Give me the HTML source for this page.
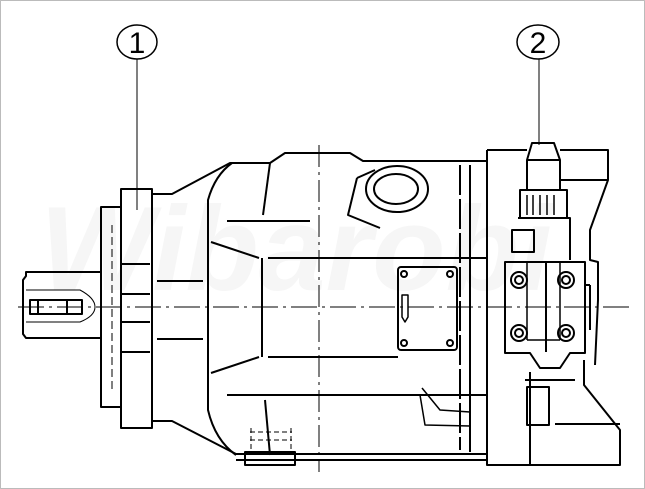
<!DOCTYPE html>
<html><head><meta charset="utf-8"><style>
html,body{margin:0;padding:0;background:#fff;width:645px;height:489px;overflow:hidden}
svg{display:block}
</style></head><body>
<svg width="645" height="489" viewBox="0 0 645 489" xmlns="http://www.w3.org/2000/svg" fill="none" stroke="#000" stroke-width="2" stroke-linejoin="round">
<rect x="0.5" y="0.5" width="644" height="488" stroke="#bbb" stroke-width="1"/>
<text x="40" y="290" font-family="Liberation Sans, sans-serif" font-size="120" font-style="italic" font-weight="bold" fill="#f6f6f6" stroke="none">Wibarobi</text>
<!-- balloons -->
<ellipse cx="137" cy="42" rx="20" ry="17" stroke-width="1.5"/>
<text x="137" y="53" font-family="Liberation Sans, sans-serif" font-size="30" text-anchor="middle" fill="#000" stroke="none">1</text>
<line x1="137" y1="59" x2="137" y2="210" stroke-width="1"/>
<ellipse cx="538" cy="42" rx="21" ry="17" stroke-width="1.5"/>
<text x="538" y="53" font-family="Liberation Sans, sans-serif" font-size="30" text-anchor="middle" fill="#000" stroke="none">2</text>
<line x1="539" y1="59" x2="539" y2="145" stroke-width="1"/>
<!-- center lines -->
<line x1="18" y1="307" x2="630" y2="307" stroke-width="1" stroke-dasharray="26,5,3,5"/>
<line x1="319" y1="145" x2="319" y2="472" stroke-width="1" stroke-dasharray="22,5,3,5"/>
<!-- shaft -->
<path d="M102 272 H26 V276 L23 280 V334 L26 338 H102"/>
<path d="M26 290 H80 Q95 298 95 307 Q95 316 80 322 H26" stroke-width="1"/>
<rect x="30" y="300" width="52" height="14"/>
<line x1="38" y1="300" x2="38" y2="314"/><line x1="67" y1="300" x2="67" y2="314"/>
<!-- flanges -->
<rect x="101" y="207" width="20" height="200"/>
<line x1="112" y1="225" x2="112" y2="390" stroke-width="1" stroke-dasharray="8,4"/>
<rect x="121" y="189" width="31" height="239"/>
<line x1="121" y1="264" x2="150" y2="264"/><line x1="121" y1="294" x2="150" y2="294"/>
<line x1="121" y1="322" x2="150" y2="322"/><line x1="121" y1="352" x2="150" y2="352"/>
<!-- main body -->
<path d="M152 194 H172 L230 163 H270 L285 153 H350 L363 161 H487"/>
<path d="M152 421 H172 L236 454 H487 V460 H236"/>
<path d="M232 163 Q215 175 208 200 V410 Q215 440 236 455"/>
<line x1="157" y1="281" x2="203" y2="281"/><line x1="157" y1="339" x2="203" y2="339"/>
<line x1="227" y1="221" x2="310" y2="221"/><line x1="268" y1="258" x2="487" y2="258"/>
<line x1="268" y1="357" x2="398" y2="357"/><line x1="227" y1="395" x2="487" y2="395"/>
<line x1="211" y1="242" x2="259" y2="258"/><line x1="211" y1="373" x2="259" y2="357"/>
<line x1="262" y1="258" x2="262" y2="357"/>
<line x1="270" y1="163" x2="263" y2="215"/><line x1="265" y1="400" x2="270" y2="455"/>
<line x1="460" y1="165" x2="460" y2="450" stroke-dasharray="30,4"/>
<line x1="470" y1="165" x2="470" y2="452"/>
<!-- port -->
<ellipse cx="397" cy="189" rx="31" ry="23"/>
<ellipse cx="396" cy="189" rx="22" ry="15"/>
<path d="M357 178 L348 215 L380 228 M357 178 L375 170"/>
<!-- nameplate -->
<rect x="398" y="267" width="59" height="83" rx="3"/>
<circle cx="404" cy="274" r="3"/><circle cx="450" cy="274" r="3"/>
<circle cx="404" cy="343" r="3"/><circle cx="450" cy="343" r="3"/>
<path d="M402 295 V317 L405 322 L408 317 V295 Z" stroke-width="1.5"/>
<!-- lower detail -->
<path d="M422 388 L440 410 L470 412 M420 395 L425 425 L470 426" stroke-width="1.5"/>
<!-- bottom boss -->
<rect x="245" y="452" width="50" height="13"/>
<path d="M250 432 H292 M250 440 H292 M251 428 V450 M291 428 V450" stroke-width="1" stroke-dasharray="5,3"/>
<!-- right housing -->
<path d="M487 150 V465 H620 V430 L584 385 V360"/>
<path d="M487 150 H527 M560 150 H608 V180 L590 230 V260 L598 262 V300 L595 365"/>
<line x1="560" y1="180" x2="608" y2="180"/>
<line x1="530" y1="372" x2="530" y2="465"/>
<line x1="555" y1="424" x2="620" y2="424"/>
<line x1="525" y1="380" x2="575" y2="380"/>
<rect x="527" y="387" width="22" height="38"/>
<!-- valve -->
<path d="M527 160 L532 143 H554 L560 160 V190 H527 Z"/>
<line x1="527" y1="160" x2="560" y2="160"/>
<rect x="520" y="190" width="47" height="28"/>
<path d="M527 195 V215 M533 195 V215 M540 195 V215 M547 195 V215 M554 195 V215" stroke-width="1.5"/>
<path d="M518 218 H570 V260"/>
<rect x="512" y="230" width="22" height="22"/>
<path d="M505 262 H585 V353 H570 L560 368 H540 L530 353 H505 Z"/>
<path d="M527 262 V340 M560 262 V340 M527 340 H560" stroke-width="1.5"/>
<line x1="546" y1="262" x2="546" y2="352"/>
<circle cx="519" cy="280" r="8"/><circle cx="519" cy="280" r="4"/>
<circle cx="566" cy="280" r="8"/><circle cx="566" cy="280" r="4"/>
<circle cx="519" cy="333" r="8"/><circle cx="519" cy="333" r="4"/>
<circle cx="566" cy="333" r="8"/><circle cx="566" cy="333" r="4"/>
<line x1="585" y1="285" x2="590" y2="285"/><line x1="590" y1="285" x2="590" y2="330"/>
</svg>
</body></html>
